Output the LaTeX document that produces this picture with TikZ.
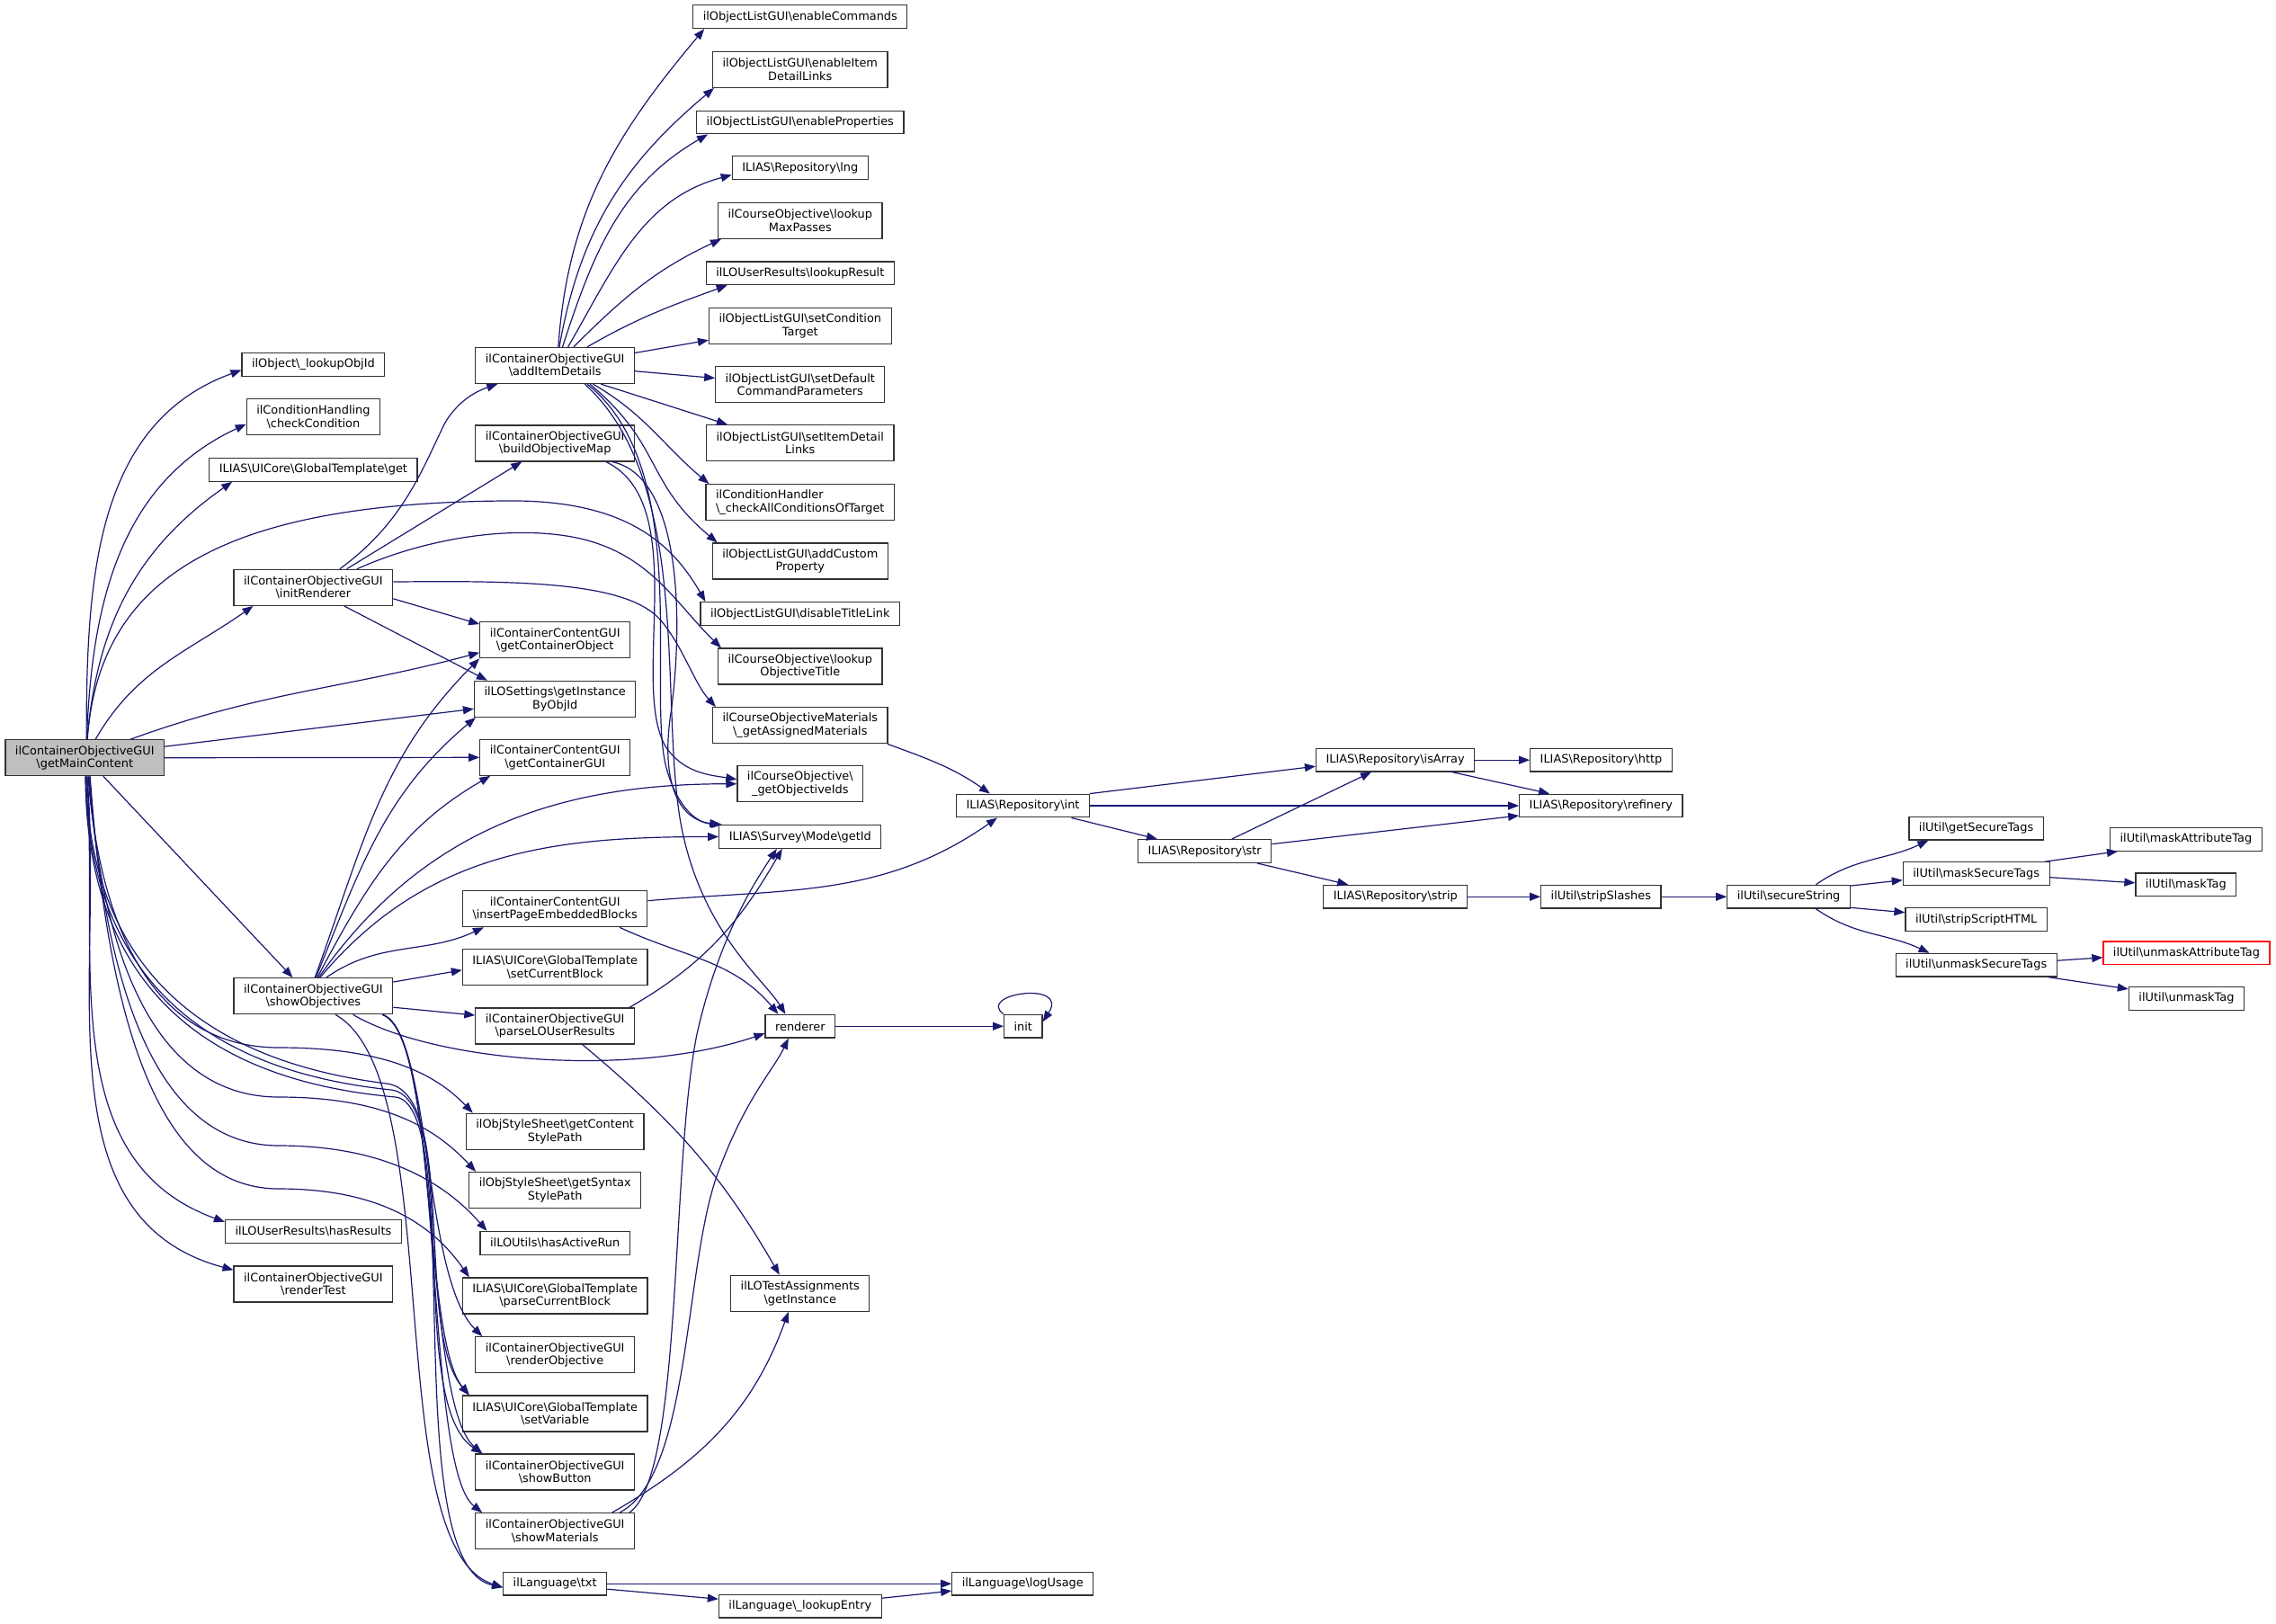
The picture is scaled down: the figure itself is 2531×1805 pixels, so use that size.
\documentclass[tikz,border=0pt]{standalone}
\usepackage{fontspec}
\setmainfont{DejaVu Sans}
\usetikzlibrary{arrows.meta}
\definecolor{edgeblue}{HTML}{191970}
\newcommand{\bsl}{\textbackslash}

\begin{document}
\begin{tikzpicture}[x=1pt, y=1pt,
  fn/.style={draw=black!80, line width=1.2pt, fill=white, align=center, inner xsep=11pt, inner ysep=2pt, minimum height=25.7pt, font=\fontsize{12.9pt}{14.3pt}\selectfont},
  fn2/.style={fn, minimum height=40pt},
  edge/.style={draw=edgeblue, line width=1.2pt, -{Triangle[length=12pt,width=9pt]}}]
\useasboundingbox (0,0) rectangle (2531,-1805);

\node[fn2, fill=gray!50] (gm) at (94.3,-842.7) {ilContainerObjectiveGUI\\\bsl getMainContent};
\node[fn] (objid) at (348.4,-405.5) {ilObject\bsl\_lookupObjId};
\node[fn2] (chkcond) at (348.4,-463.7) {ilConditionHandling\\\bsl checkCondition};
\node[fn] (tplget) at (348.4,-522.3) {ILIAS\bsl UICore\bsl GlobalTemplate\bsl get};
\node[fn2] (initr) at (348.4,-653.3) {ilContainerObjectiveGUI\\\bsl initRenderer};
\node[fn2] (showobj) at (348.4,-1107.7) {ilContainerObjectiveGUI\\\bsl showObjectives};
\node[fn] (hasres) at (348.4,-1369.3) {ilLOUserResults\bsl hasResults};
\node[fn2] (rtest) at (348.4,-1427.9) {ilContainerObjectiveGUI\\\bsl renderTest};

\node[fn2] (additem) at (617.2,-406.5) {ilContainerObjectiveGUI\\\bsl addItemDetails};
\node[fn2] (buildmap) at (617.2,-492.9) {ilContainerObjectiveGUI\\\bsl buildObjectiveMap};
\node[fn2] (getcobj) at (617.2,-711.7) {ilContainerContentGUI\\\bsl getContainerObject};
\node[fn2] (losett) at (617.2,-777.3) {ilLOSettings\bsl getInstance\\ByObjId};
\node[fn2] (getcgui) at (617.2,-842.3) {ilContainerContentGUI\\\bsl getContainerGUI};
\node[fn2] (inspage) at (617.2,-1010.7) {ilContainerContentGUI\\\bsl insertPageEmbeddedBlocks};
\node[fn2] (setcur) at (617.2,-1075.8) {ILIAS\bsl UICore\bsl GlobalTemplate\\\bsl setCurrentBlock};
\node[fn2] (parselo) at (617.2,-1141) {ilContainerObjectiveGUI\\\bsl parseLOUserResults};
\node[fn2] (cstyle) at (617.2,-1258.3) {ilObjStyleSheet\bsl getContent\\StylePath};
\node[fn2] (sstyle) at (617.2,-1323.5) {ilObjStyleSheet\bsl getSyntax\\StylePath};
\node[fn] (actrun) at (617.2,-1382.3) {ilLOUtils\bsl hasActiveRun};
\node[fn2] (parsecur) at (617.2,-1441) {ILIAS\bsl UICore\bsl GlobalTemplate\\\bsl parseCurrentBlock};
\node[fn2] (rendobj) at (617.2,-1506.7) {ilContainerObjectiveGUI\\\bsl renderObjective};
\node[fn2] (setvar) at (617.2,-1572) {ILIAS\bsl UICore\bsl GlobalTemplate\\\bsl setVariable};
\node[fn2] (showbtn) at (617.2,-1637) {ilContainerObjectiveGUI\\\bsl showButton};
\node[fn2] (showmat) at (617.2,-1702.7) {ilContainerObjectiveGUI\\\bsl showMaterials};
\node[fn] (txt) at (617.2,-1761.2) {ilLanguage\bsl txt};

\node[fn] (encmd) at (889.8,-18.7) {ilObjectListGUI\bsl enableCommands};
\node[fn2] (enitem) at (889.8,-77.3) {ilObjectListGUI\bsl enableItem\\DetailLinks};
\node[fn] (enprop) at (889.8,-136) {ilObjectListGUI\bsl enableProperties};
\node[fn] (lng) at (889.8,-186.5) {ILIAS\bsl Repository\bsl lng};
\node[fn2] (maxpass) at (889.8,-245.3) {ilCourseObjective\bsl lookup\\MaxPasses};
\node[fn] (lookres) at (889.8,-303.8) {ilLOUserResults\bsl lookupResult};
\node[fn2] (setcond) at (889.8,-362.3) {ilObjectListGUI\bsl setCondition\\Target};
\node[fn2] (setdef) at (889.8,-427.5) {ilObjectListGUI\bsl setDefault\\CommandParameters};
\node[fn2] (setitem) at (889.8,-492.7) {ilObjectListGUI\bsl setItemDetail\\Links};
\node[fn2, align=left] (chkall) at (889.8,-558.7) {ilConditionHandler\\\bsl\_checkAllConditionsOfTarget};
\node[fn2] (addcust) at (889.8,-624) {ilObjectListGUI\bsl addCustom\\Property};
\node[fn] (distitle) at (889.8,-682.5) {ilObjectListGUI\bsl disableTitleLink};
\node[fn2] (objtitle) at (889.8,-741) {ilCourseObjective\bsl lookup\\ObjectiveTitle};
\node[fn2] (assmat) at (889.8,-806.7) {ilCourseObjectiveMaterials\\\bsl\_getAssignedMaterials};
\node[fn2] (objids) at (889.8,-871.7) {ilCourseObjective\bsl\\\_getObjectiveIds};
\node[fn] (getid) at (889.8,-930.5) {ILIAS\bsl Survey\bsl Mode\bsl getId};
\node[fn] (renderer) at (889.8,-1141.2) {renderer};
\node[fn2] (lotest) at (889.8,-1438.3) {ilLOTestAssignments\\\bsl getInstance};
\node[fn] (lookentry) at (889.8,-1786.2) {ilLanguage\bsl\_lookupEntry};

\node[fn] (repint) at (1137.5,-896) {ILIAS\bsl Repository\bsl int};
\node[fn] (init) at (1137.8,-1141.2) {init};
\node[fn] (logusage) at (1137.3,-1761.2) {ilLanguage\bsl logUsage};
\node[fn] (repstr) at (1339.6,-946.5) {ILIAS\bsl Repository\bsl str};
\node[fn] (isarray) at (1551.6,-845.2) {ILIAS\bsl Repository\bsl isArray};
\node[fn] (strip) at (1551.8,-997.2) {ILIAS\bsl Repository\bsl strip};
\node[fn] (http) at (1780.5,-845.2) {ILIAS\bsl Repository\bsl http};
\node[fn] (refinery) at (1780.3,-896) {ILIAS\bsl Repository\bsl refinery};
\node[fn] (stripsl) at (1780.3,-997.2) {ilUtil\bsl stripSlashes};
\node[fn] (secstr) at (1989.1,-997.2) {ilUtil\bsl secureString};
\node[fn] (gettags) at (2197.6,-921.2) {ilUtil\bsl getSecureTags};
\node[fn] (masktags) at (2197.7,-971.7) {ilUtil\bsl maskSecureTags};
\node[fn] (stripscr) at (2197.7,-1022.7) {ilUtil\bsl stripScriptHTML};
\node[fn] (unmasktags) at (2197.7,-1073.2) {ilUtil\bsl unmaskSecureTags};
\node[fn] (maskattr) at (2430.9,-933.3) {ilUtil\bsl maskAttributeTag};
\node[fn] (masktag) at (2430.8,-983.8) {ilUtil\bsl maskTag};
\node[fn, draw=red] (unmaskattr) at (2431.4,-1059.8) {ilUtil\bsl unmaskAttributeTag};
\node[fn] (unmasktag) at (2431.4,-1110.3) {ilUtil\bsl unmaskTag};

\draw[edge] (gm.85) to[out=90,in=200] ([yshift=-6pt]objid.west);
\draw[edge] (gm.84) to[out=88,in=205] ([yshift=-8pt]chkcond.west);
\draw[edge] (gm.83) to[out=85,in=215] ([xshift=26pt]tplget.south west);
\draw[edge] (gm.82) .. controls (110,-640) and (250,-560) .. (560,-557) .. controls (690,-555) and (745,-600) .. ([xshift=6pt]distitle.north west);
\draw[edge] (gm.60) to[out=60,in=215] ([xshift=22pt]initr.south west);
\draw[edge] (gm.22) to[out=20,in=195] ([yshift=-14pt]getcobj.west);
\draw[edge] (gm.8) -- ([yshift=-11pt]losett.west);
\draw[edge] (gm.east) -- (getcgui.west);
\draw[edge] (gm.-45) -- ([xshift=66pt]showobj.north west);
\draw[edge] (gm.-84) to[out=-86,in=160] ([yshift=-3pt]hasres.north west);
\draw[edge] (gm.-83) to[out=-85,in=165] ([yshift=-5pt]rtest.north west);
\draw[edge] (gm.-80) .. controls (115,-1080) and (200,-1165) .. (310,-1165) .. controls (420,-1165) and (480,-1190) .. ([xshift=8pt]cstyle.north west);
\draw[edge] (gm.-78) .. controls (118,-1120) and (200,-1220) .. (310,-1220) .. controls (420,-1220) and (480,-1250) .. ([xshift=8pt]sstyle.north west);
\draw[edge] (gm.-76) .. controls (121,-1160) and (200,-1274) .. (310,-1274) .. controls (420,-1274) and (490,-1310) .. ([xshift=8pt]actrun.north west);
\draw[edge] (gm.-74) .. controls (124,-1200) and (200,-1322) .. (310,-1322) .. controls (420,-1322) and (480,-1360) .. ([xshift=8pt]parsecur.north west);
\draw[edge] (gm.-86) .. controls (100,-1110) and (270,-1185) .. (430,-1205) .. controls (510,-1215) and (460,-1480) .. ([xshift=8pt]setvar.north west);
\draw[edge] (gm.-87) .. controls (98,-1120) and (270,-1195) .. (435,-1212) .. controls (515,-1222) and (450,-1560) .. ([xshift=8pt]showbtn.north west);
\draw[edge] (gm.-88) .. controls (96,-1130) and (270,-1205) .. (440,-1220) .. controls (520,-1230) and (440,-1740) .. ([yshift=-4pt]txt.west);

\draw[edge] (initr.35) .. controls (450,-580) and (470,-520) .. (495,-470) .. controls (510,-445) and (530,-435) .. ([xshift=25pt]additem.south west);
\draw[edge] (initr.29) -- ([xshift=52pt]buildmap.south west);
\draw[edge] (initr.23) .. controls (470,-600) and (560,-585) .. (630,-596) .. controls (720,-610) and (750,-670) .. ([xshift=4pt]objtitle.north west);
\draw[edge] (initr.4) .. controls (600,-645) and (700,-650) .. (735,-690) .. controls (760,-720) and (772,-760) .. ([xshift=4pt]assmat.north west);
\draw[edge] (initr.-8) -- ([yshift=-3pt]getcobj.north west);
\draw[edge] (initr.-31) -- ([xshift=15pt]losett.north west);

\draw[edge] (showobj.85) to[out=70,in=225] (getcobj.south west);
\draw[edge] (showobj.82) to[out=68,in=220] ([xshift=2pt]losett.south west);
\draw[edge] (showobj.78) to[out=62,in=210] ([xshift=12pt]getcgui.south west);
\draw[edge] (showobj.74) to[out=55,in=180] (objids.west);
\draw[edge] (showobj.70) to[out=50,in=180] (getid.west);
\draw[edge] (showobj.55) to[out=35,in=205] ([xshift=24pt]inspage.south west);
\draw[edge] (showobj.10) -- ([yshift=-3pt]setcur.west);
\draw[edge] (showobj.-8) -- ([yshift=12pt]parselo.west);
\draw[edge] (showobj.-25) .. controls (480,-1180) and (700,-1200) .. ([yshift=-8pt]renderer.west);
\draw[edge] (showobj.-15) .. controls (480,-1150) and (470,-1420) .. ([xshift=8pt]rendobj.north west);
\draw[edge] (showobj.-15) .. controls (485,-1150) and (470,-1490) .. ([xshift=8pt]setvar.north west);
\draw[edge] (showobj.-15) .. controls (490,-1150) and (470,-1560) .. ([xshift=8pt]showbtn.north west);
\draw[edge] (showobj.-15) .. controls (495,-1150) and (470,-1630) .. ([xshift=8pt]showmat.north west);
\draw[edge] (showobj.-40) .. controls (500,-1200) and (420,-1720) .. ([yshift=-4pt]txt.west);

\draw[edge] (additem.80) to[out=86,in=230] ([xshift=13pt]encmd.south west);
\draw[edge] (additem.77) to[out=80,in=220] ([xshift=2pt]enitem.south west);
\draw[edge] (additem.68) to[out=72,in=210] ([xshift=13pt]enprop.south west);
\draw[edge] (additem.55) to[out=60,in=195] ([yshift=-8pt]lng.west);
\draw[edge] (additem.45) to[out=45,in=205] ([xshift=4pt]maxpass.south west);
\draw[edge] (additem.30) to[out=30,in=200] ([xshift=24pt]lookres.south west);
\draw[edge] (additem.9) -- ([yshift=-16pt]setcond.west);
\draw[edge] (additem.-4) -- ([yshift=7pt]setdef.west);
\draw[edge] (additem.-22) -- ([xshift=24pt]setitem.north west);
\draw[edge] (additem.-26) to[out=-30,in=140] ([xshift=4pt]chkall.north west);
\draw[edge] (additem.-28) to[out=-40,in=140,looseness=1.2] ([xshift=6pt]addcust.north west);
\draw[edge] (additem.-30) .. controls (770,-520) and (720,-760) .. (740,-850) .. controls (750,-890) and (770,-915) .. ([xshift=4pt]getid.north west);
\draw[edge] (additem.-32) .. controls (775,-540) and (730,-800) .. (760,-930) .. controls (785,-1040) and (850,-1090) .. ([xshift=23pt]renderer.north west);
\draw[edge] (buildmap.-20) .. controls (770,-560) and (700,-760) .. (740,-830) .. controls (760,-860) and (790,-862) .. ([yshift=5pt]objids.west);
\draw[edge] (buildmap.-18) .. controls (760,-530) and (760,-700) .. (745,-800) .. controls (735,-880) and (760,-912) .. ([xshift=2pt]getid.north west);

\draw[edge] (parselo.14) to[out=30,in=240] ([xshift=-20pt]getid.south);
\draw[edge] (parselo.-34) to[out=-40,in=120] ([xshift=-23pt]lotest.north);
\draw[edge] (inspage.5) to[out=5,in=215] ([xshift=46pt]repint.south west);
\draw[edge] (inspage.-16) to[out=-25,in=130] ([xshift=15pt]renderer.north west);
\draw[edge] (assmat.-12) to[out=-20,in=145] ([xshift=38pt]repint.north west);
\draw[edge] (showmat.14) .. controls (760,-1640) and (745,-1300) .. (775,-1150) .. controls (800,-1040) and (840,-980) .. ([xshift=-26pt]getid.south);
\draw[edge] (showmat.16) .. controls (770,-1640) and (760,-1400) .. (800,-1300) .. controls (830,-1220) and (860,-1190) .. ([xshift=-13pt]renderer.south);
\draw[edge] (showmat.18) to[out=30,in=250] ([xshift=-13pt]lotest.south);

\draw[edge] (renderer.east) -- (init.west);
\draw[edge] (init.north west) .. controls (1085,-1105) and (1190,-1090) .. ([yshift=5pt]init.east);

\draw[edge] (repint.north east) -- ([yshift=-7pt]isarray.west);
\draw[edge] (repint.east) -- (refinery.west);
\draw[edge] (repint.-14) -- ([xshift=22pt]repstr.north west);
\draw[edge] (repstr.24) -- ([xshift=62pt]isarray.south west);
\draw[edge] (repstr.6) -- ([yshift=-11pt]refinery.west);
\draw[edge] (repstr.-13) -- ([xshift=28pt]strip.north west);
\draw[edge] (isarray.east) -- (http.west);
\draw[edge] (isarray.-12) -- ([xshift=34pt]refinery.north west);
\draw[edge] (strip.east) -- (stripsl.west);
\draw[edge] (stripsl.east) -- (secstr.west);
\draw[edge] (secstr.24) to[out=35,in=205] ([xshift=22pt]gettags.south west);
\draw[edge] (secstr.10) -- ([yshift=-7pt]masktags.west);
\draw[edge] (secstr.-10) -- ([yshift=8pt]stripscr.west);
\draw[edge] (secstr.-24) to[out=-35,in=155] ([xshift=38pt]unmasktags.north west);
\draw[edge] ([xshift=-6pt]masktags.north east) -- ([xshift=9pt]maskattr.south west);
\draw[edge] ([yshift=-4pt]masktags.east) -- ([yshift=2pt]masktag.west);
\draw[edge] ([yshift=5pt]unmasktags.east) -- ([yshift=-5pt]unmaskattr.west);
\draw[edge] ([xshift=-10pt]unmasktags.south east) -- ([yshift=-3pt]unmasktag.north west);

\draw[edge] (txt.east) -- (logusage.west);
\draw[edge] ([yshift=-6pt]txt.east) -- ([yshift=8pt]lookentry.west);
\draw[edge] ([yshift=9pt]lookentry.east) -- ([yshift=-8pt]logusage.west);
\end{tikzpicture}
\end{document}
